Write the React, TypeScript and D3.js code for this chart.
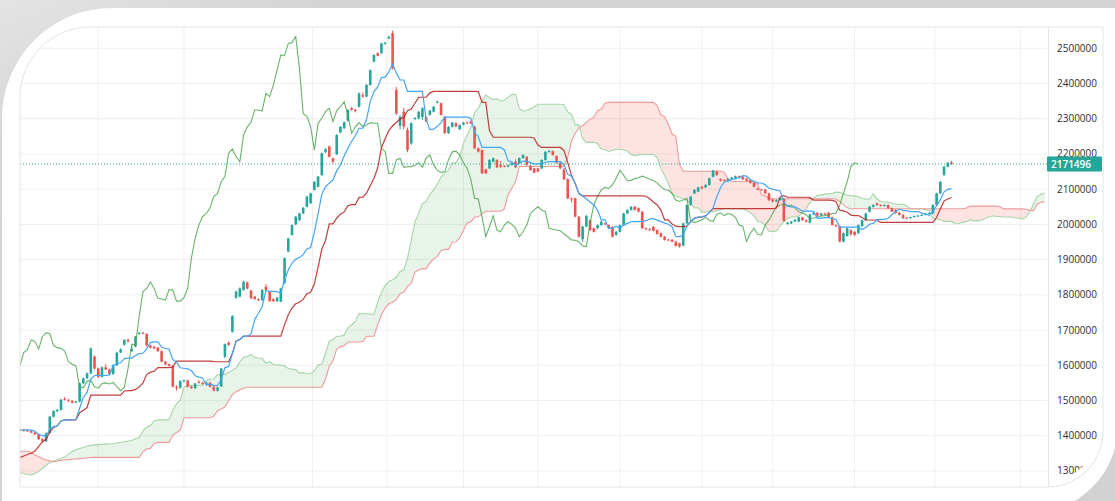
import React from 'react';
import * as d3 from 'd3';

// Daily candles, values in thousands of index points
const opens = [
  1418, 1416, 1415, 1413, 1409, 1404, 1390, 1384, 1407, 1454,
  1470, 1473, 1505, 1502, 1499, 1494, 1497, 1549, 1563, 1577,
  1625, 1591, 1567, 1594, 1588, 1575, 1600, 1636, 1658, 1672,
  1640, 1653, 1689, 1692, 1689, 1656, 1652, 1650, 1640, 1610,
  1603, 1598, 1539, 1536, 1555, 1557, 1539, 1535, 1553, 1550,
  1547, 1551, 1539, 1528, 1540, 1624, 1664, 1695, 1792, 1795,
  1814, 1835, 1812, 1795, 1788, 1785, 1823, 1809, 1788, 1782,
  1781, 1833, 1923, 1970, 2000, 2012, 2031, 2050, 2060, 2098,
  2107, 2140, 2205, 2221, 2188, 2199, 2261, 2273, 2294, 2330,
  2325, 2334, 2367, 2363, 2396, 2462, 2486, 2486, 2514, 2528,
  2543, 2382, 2280, 2320, 2268, 2230, 2300, 2301, 2305, 2304,
  2311, 2320, 2346, 2344, 2306, 2259, 2277, 2287, 2270, 2283,
  2289, 2292, 2277, 2216, 2211, 2156, 2159, 2178, 2183, 2169,
  2166, 2164, 2169, 2178, 2173, 2188, 2192, 2166, 2159, 2159,
  2159, 2183, 2206, 2208, 2194, 2175, 2156, 2128, 2074, 2074,
  2022, 1958, 1994, 2012, 1989, 1989, 1998, 2003, 1998, 1993,
  1970, 1979, 1998, 2031, 2041, 2050, 2046, 2036, 1989, 1986,
  1993, 1984, 1975, 1965, 1957, 1956, 1951, 1946, 1940, 2003,
  2055, 2088, 2093, 2107, 2105, 2112, 2135, 2150, 2128, 2126,
  2124, 2128, 2131, 2137, 2135, 2130, 2126, 2118, 2102, 2099,
  2099, 2088, 2071, 2065, 2069, 2072, 2001, 2003, 2008, 2008,
  2020, 2012, 2005, 2028, 2033, 2025, 2031, 2033, 2020, 1998,
  1995, 1951, 1967, 1984, 1979, 1975, 1995, 2012, 2036, 2050,
  2060, 2055, 2053, 2055, 2046, 2041, 2033, 2027, 2019, 2018,
  2021, 2024, 2025, 2027, 2031, 2031, 2055, 2088, 2140, 2164,
  2176,
];
const highs = [
  1420, 1419, 1417, 1415, 1411, 1406, 1393, 1409, 1456, 1472,
  1476, 1504, 1510, 1504, 1501, 1499, 1551, 1565, 1580, 1650,
  1628, 1593, 1597, 1603, 1590, 1603, 1638, 1648, 1674, 1676,
  1658, 1683, 1694, 1695, 1691, 1658, 1655, 1652, 1642, 1612,
  1605, 1600, 1543, 1558, 1560, 1559, 1541, 1550, 1558, 1553,
  1553, 1553, 1541, 1539, 1593, 1662, 1668, 1742, 1812, 1821,
  1840, 1838, 1814, 1797, 1790, 1816, 1830, 1811, 1790, 1794,
  1820, 1906, 1962, 2000, 2024, 2033, 2049, 2081, 2090, 2123,
  2138, 2204, 2216, 2224, 2190, 2256, 2279, 2292, 2327, 2333,
  2328, 2374, 2375, 2398, 2440, 2483, 2489, 2516, 2518, 2535,
  2550, 2390, 2310, 2330, 2275, 2290, 2305, 2322, 2333, 2306,
  2325, 2336, 2352, 2346, 2308, 2279, 2291, 2290, 2284, 2291,
  2292, 2294, 2280, 2218, 2213, 2158, 2185, 2190, 2185, 2180,
  2168, 2170, 2177, 2185, 2190, 2199, 2194, 2168, 2161, 2161,
  2185, 2208, 2212, 2210, 2196, 2177, 2160, 2131, 2076, 2076,
  2024, 1996, 2027, 2014, 1991, 2000, 2010, 2005, 2000, 1995,
  1981, 2000, 2033, 2043, 2052, 2053, 2048, 2038, 1991, 1990,
  1995, 1986, 1977, 1967, 1959, 1958, 1953, 1948, 2005, 2057,
  2081, 2100, 2107, 2109, 2114, 2133, 2155, 2153, 2131, 2129,
  2131, 2135, 2139, 2139, 2137, 2132, 2128, 2120, 2104, 2101,
  2101, 2090, 2073, 2071, 2076, 2075, 2007, 2010, 2015, 2022,
  2022, 2014, 2030, 2035, 2035, 2033, 2033, 2035, 2022, 2000,
  1997, 1977, 1991, 1986, 1981, 2000, 2014, 2033, 2052, 2057,
  2062, 2057, 2057, 2057, 2048, 2043, 2035, 2029, 2021, 2022,
  2025, 2027, 2029, 2033, 2034, 2057, 2090, 2123, 2166, 2177,
  2180,
];
const lows = [
  1413, 1412, 1411, 1407, 1402, 1388, 1380, 1382, 1405, 1452,
  1466, 1471, 1500, 1496, 1492, 1492, 1495, 1547, 1561, 1575,
  1588, 1564, 1565, 1586, 1572, 1573, 1598, 1634, 1656, 1664,
  1638, 1651, 1687, 1688, 1654, 1648, 1646, 1638, 1608, 1600,
  1597, 1537, 1528, 1534, 1552, 1537, 1533, 1533, 1548, 1544,
  1545, 1537, 1526, 1525, 1538, 1620, 1655, 1693, 1788, 1793,
  1812, 1816, 1788, 1786, 1783, 1783, 1812, 1780, 1780, 1780,
  1779, 1831, 1921, 1968, 1998, 2010, 2029, 2048, 2058, 2096,
  2105, 2138, 2203, 2190, 2172, 2197, 2259, 2271, 2292, 2323,
  2318, 2332, 2360, 2361, 2394, 2460, 2477, 2484, 2510, 2526,
  2440, 2310, 2270, 2270, 2205, 2226, 2296, 2299, 2296, 2290,
  2309, 2318, 2344, 2309, 2257, 2257, 2275, 2276, 2268, 2281,
  2285, 2285, 2214, 2204, 2143, 2143, 2157, 2176, 2160, 2160,
  2162, 2162, 2167, 2160, 2171, 2186, 2167, 2152, 2145, 2148,
  2157, 2181, 2204, 2195, 2173, 2157, 2126, 2072, 2062, 2020,
  1963, 1950, 1992, 1982, 1977, 1987, 1996, 1998, 1987, 1963,
  1968, 1977, 1996, 2029, 2039, 2039, 2034, 1987, 1984, 1982,
  1980, 1971, 1963, 1954, 1953, 1949, 1937, 1934, 1938, 2001,
  2053, 2086, 2091, 2100, 2103, 2110, 2133, 2138, 2122, 2122,
  2122, 2126, 2129, 2131, 2126, 2122, 2116, 2105, 2097, 2096,
  2086, 2066, 2063, 2063, 2067, 2008, 1999, 2001, 2006, 2006,
  2010, 2005, 2003, 2026, 2023, 2023, 2026, 2019, 1997, 1993,
  1949, 1949, 1965, 1968, 1967, 1973, 1993, 2010, 2034, 2048,
  2053, 2051, 2051, 2044, 2035, 2030, 2025, 2016, 2016, 2016,
  2019, 2022, 2023, 2025, 2029, 2029, 2053, 2086, 2138, 2162,
  2170,
];
const closes = [
  1416, 1415, 1413, 1409, 1404, 1390, 1384, 1407, 1454, 1470,
  1473, 1502, 1502, 1499, 1494, 1497, 1549, 1563, 1577, 1648,
  1591, 1567, 1594, 1588, 1575, 1600, 1636, 1645, 1672, 1668,
  1646, 1681, 1692, 1690, 1656, 1650, 1648, 1640, 1610, 1603,
  1598, 1539, 1536, 1555, 1557, 1539, 1535, 1548, 1550, 1547,
  1551, 1539, 1528, 1537, 1591, 1660, 1658, 1740, 1809, 1818,
  1837, 1818, 1790, 1788, 1785, 1814, 1814, 1782, 1782, 1792,
  1818, 1904, 1960, 1998, 2022, 2031, 2047, 2079, 2088, 2121,
  2136, 2202, 2214, 2192, 2178, 2254, 2277, 2290, 2325, 2325,
  2322, 2372, 2363, 2396, 2438, 2481, 2479, 2514, 2516, 2533,
  2443, 2315, 2306, 2278, 2211, 2287, 2302, 2320, 2330, 2292,
  2323, 2334, 2348, 2311, 2259, 2277, 2289, 2278, 2282, 2289,
  2287, 2287, 2216, 2207, 2145, 2145, 2183, 2188, 2162, 2164,
  2164, 2168, 2175, 2162, 2188, 2197, 2169, 2154, 2147, 2150,
  2183, 2206, 2208, 2197, 2175, 2159, 2128, 2074, 2072, 2022,
  1965, 1994, 2024, 1984, 1979, 1998, 2008, 2000, 1989, 1965,
  1979, 1998, 2031, 2041, 2050, 2041, 2036, 1989, 1986, 1984,
  1982, 1973, 1965, 1956, 1955, 1951, 1939, 1937, 2003, 2055,
  2079, 2098, 2105, 2102, 2112, 2131, 2153, 2140, 2124, 2125,
  2130, 2133, 2137, 2133, 2128, 2124, 2118, 2107, 2099, 2097,
  2088, 2069, 2065, 2069, 2074, 2010, 2005, 2008, 2013, 2020,
  2012, 2008, 2028, 2033, 2025, 2031, 2028, 2020, 1998, 1995,
  1951, 1975, 1989, 1972, 1970, 1998, 2012, 2031, 2050, 2055,
  2055, 2053, 2055, 2046, 2036, 2032, 2027, 2017, 2018, 2021,
  2024, 2025, 2027, 2031, 2032, 2055, 2088, 2121, 2164, 2175,
  2171.496,
];

// Earlier sessions (left of the visible window), only needed to warm up the indicator
const preHighs = [
  1430, 1445, 1460, 1452, 1440, 1428, 1418, 1410, 1405, 1400,
  1396, 1390, 1384, 1378, 1372, 1368, 1362, 1358, 1355, 1352, 1350, 1348, 1345, 1342, 1340, 1338,
  1350, 1346, 1340, 1336, 1332, 1330, 1334, 1338, 1342, 1340, 1335, 1330, 1326,
  1322, 1320, 1318, 1322, 1326, 1320, 1314, 1308, 1302, 1296, 1290, 1284,
  1270, 1285, 1290, 1300, 1325, 1345, 1362, 1380, 1395, 1400, 1404, 1408, 1410,
  1412, 1414, 1416, 1418, 1420, 1422, 1424, 1425, 1423, 1421, 1420, 1419,
];
const preLows = [
  1410, 1425, 1438, 1430, 1420, 1408, 1398, 1390, 1385, 1380,
  1376, 1370, 1364, 1358, 1352, 1348, 1342, 1338, 1335, 1332, 1330, 1328, 1325, 1322, 1320, 1318,
  1330, 1326, 1320, 1316, 1312, 1310, 1314, 1318, 1322, 1320, 1315, 1310, 1306,
  1302, 1300, 1298, 1302, 1306, 1300, 1294, 1288, 1282, 1276, 1270, 1264,
  1252, 1260, 1268, 1275, 1288, 1315, 1340, 1355, 1366, 1375, 1385, 1390, 1394,
  1397, 1400, 1402, 1404, 1406, 1408, 1410, 1411, 1410, 1409, 1408, 1410,
];

const yTicks = [1300, 1400, 1500, 1600, 1700, 1800, 1900, 2000, 2100, 2200, 2300, 2400, 2500];
// vertical grid (month starts), as bar positions
const gridBars = [21, 44, 78.5, 98.5, 119, 139, 161, 183, 202, 224, 245.5, 268.5];
const lastPrice = 2171496;

const TENKAN = 9;
const KIJUN = 26;
const SENKOU_B = 52;
const SHIFT = 25;

const W = 1115;
const H = 501;
const UP = '#26a69a';
const DOWN = '#ef5350';

type CloudPt = { k: number; a: number; b: number };

export default function App() {
  const n = closes.length;
  const pre = preHighs.length;
  const allH = preHighs.concat(highs);
  const allL = preLows.concat(lows);

  const donch = (len: number, g: number) => {
    let hi = -Infinity;
    let lo = Infinity;
    for (let j = g - len + 1; j <= g; j++) {
      hi = Math.max(hi, allH[j]);
      lo = Math.min(lo, allL[j]);
    }
    return (hi + lo) / 2;
  };

  const x = d3.scaleLinear().domain([0, n - 1]).range([20, 951.5]);
  const y = d3.scaleLinear().domain([1400, 2500]).range([435.7, 48.3]);

  const tenkan: [number, number][] = [];
  const kijun: [number, number][] = [];
  for (let i = 0; i < n; i++) {
    tenkan.push([i, donch(TENKAN, i + pre)]);
    kijun.push([i, donch(KIJUN, i + pre)]);
  }
  const chikou: [number, number][] = [];
  for (let i = SHIFT; i < n; i++) chikou.push([i - SHIFT, closes[i]]);

  const cloud: CloudPt[] = [];
  for (let k = 0; k < n + SHIFT; k++) {
    const g = k + pre - SHIFT;
    cloud.push({ k, a: (donch(TENKAN, g) + donch(KIJUN, g)) / 2, b: donch(SENKOU_B, g) });
  }

  const line = d3
    .line<[number, number]>()
    .x(d => x(d[0]))
    .y(d => y(d[1]));
  const lineA = d3
    .line<CloudPt>()
    .x(d => x(d.k))
    .y(d => y(d.a));
  const lineB = d3
    .line<CloudPt>()
    .x(d => x(d.k))
    .y(d => y(d.b));
  const band = d3
    .area<CloudPt>()
    .x(d => x(d.k))
    .y0(d => y(d.b))
    .y1(d => y(d.a));
  const aboveB = d3
    .area<CloudPt>()
    .x(d => x(d.k))
    .y0(0)
    .y1(d => y(d.b));
  const belowB = d3
    .area<CloudPt>()
    .x(d => x(d.k))
    .y0(d => y(d.b))
    .y1(H);

  const bw = 2.6;
  const plotFrame = 'M20,487 L20,97 A70,70 0 0 1 90,27 L1047,27 L1047,487 Z';
  const outerFrame = 'M20,487 L20,97 A70,70 0 0 1 90,27 L1103,27 L1103,432 A55,55 0 0 1 1048,487 Z';
  const labelClip = 'M1049,27 L1103,27 L1103,417 A70,70 0 0 1 1033,487 L1049,487 Z';
  const card = 'M2,118 A110,110 0 0 1 112,8 L1118,8 L1118,425 A88,88 0 0 1 1030,513 L2,513 Z';
  const yLast = y(lastPrice / 1000);

  return (
    <svg width={W} height={H} style={{ position: 'fixed', left: 0, top: 0, display: 'block' }}>
      <defs>
        <clipPath id="plot">
          <path d={plotFrame} />
        </clipPath>
        <clipPath id="axis">
          <path d={labelClip} />
        </clipPath>
        <clipPath id="aboveB">
          <path d={aboveB(cloud) ?? ''} />
        </clipPath>
        <clipPath id="belowB">
          <path d={belowB(cloud) ?? ''} />
        </clipPath>
        <linearGradient id="shade" x1="0" y1="0" x2="1" y2="1">
          <stop offset="0" stopColor="#e4e4e4" />
          <stop offset="0.15" stopColor="#d4d4d4" />
          <stop offset="1" stopColor="#d2d2d2" />
        </linearGradient>
      </defs>
      <rect width={W} height={H} fill="#fff" />

      <g clipPath="url(#plot)">
        {yTicks.map(t => (
          <line key={t} x1={20} x2={1047} y1={y(t)} y2={y(t)} stroke="#efefef" />
        ))}
        {gridBars.map(b => (
          <line key={b} x1={x(b)} x2={x(b)} y1={27} y2={487} stroke="#efefef" />
        ))}

        <path d={band(cloud) ?? ''} fill="rgba(67,160,71,0.12)" clipPath="url(#aboveB)" />
        <path d={band(cloud) ?? ''} fill="rgba(244,67,54,0.14)" clipPath="url(#belowB)" />
        <path d={lineA(cloud) ?? ''} fill="none" stroke="#a5d6a7" strokeWidth={1.1} />
        <path d={lineB(cloud) ?? ''} fill="none" stroke="#ef9a9a" strokeWidth={1.1} />

        {closes.map((c, i) => {
          const o = opens[i];
          const col = c >= o ? UP : DOWN;
          const top = y(Math.max(o, c));
          const hgt = Math.max(1, Math.abs(y(o) - y(c)));
          return (
            <g key={i}>
              <line x1={x(i)} x2={x(i)} y1={y(highs[i])} y2={y(lows[i])} stroke={col} strokeWidth={1} />
              <rect x={x(i) - bw / 2} y={top} width={bw} height={hgt} fill={col} />
            </g>
          );
        })}

        <path d={line(chikou) ?? ''} fill="none" stroke="#43a047" strokeOpacity={0.8} strokeWidth={1.1} />
        <path d={line(kijun) ?? ''} fill="none" stroke="#b71c1c" strokeOpacity={0.85} strokeWidth={1.2} />
        <path d={line(tenkan) ?? ''} fill="none" stroke="#42a5f5" strokeWidth={1.2} />

        <line x1={20} x2={1047} y1={yLast} y2={yLast} stroke={UP} strokeWidth={1} strokeDasharray="1,2" />
      </g>

      <path d={outerFrame} fill="none" stroke="#e4e4e4" />
      <line x1={1048.5} x2={1048.5} y1={27} y2={487} stroke="#e4e4e4" />

      <g clipPath="url(#axis)" fontFamily="'Open Sans', sans-serif" fontSize={10} fill="#2f2f2f">
        {yTicks.map(t => (
          <text key={t} x={1057} y={y(t)} dy="0.35em">
            {d3.format('d')(t * 1000)}
          </text>
        ))}
      </g>

      <rect x={1047} y={yLast - 7.5} width={55} height={15} fill={UP} rx={1} />
      <text
        x={1051}
        y={yLast}
        dy="0.36em"
        fontFamily="'Open Sans', sans-serif"
        fontSize={10}
        fontWeight={600}
        fill="#fff"
      >
        {lastPrice}
      </text>

      <path d={`M0,0H${W}V${H}H0Z ${card}`} fill="url(#shade)" fillRule="evenodd" />
    </svg>
  );
}
